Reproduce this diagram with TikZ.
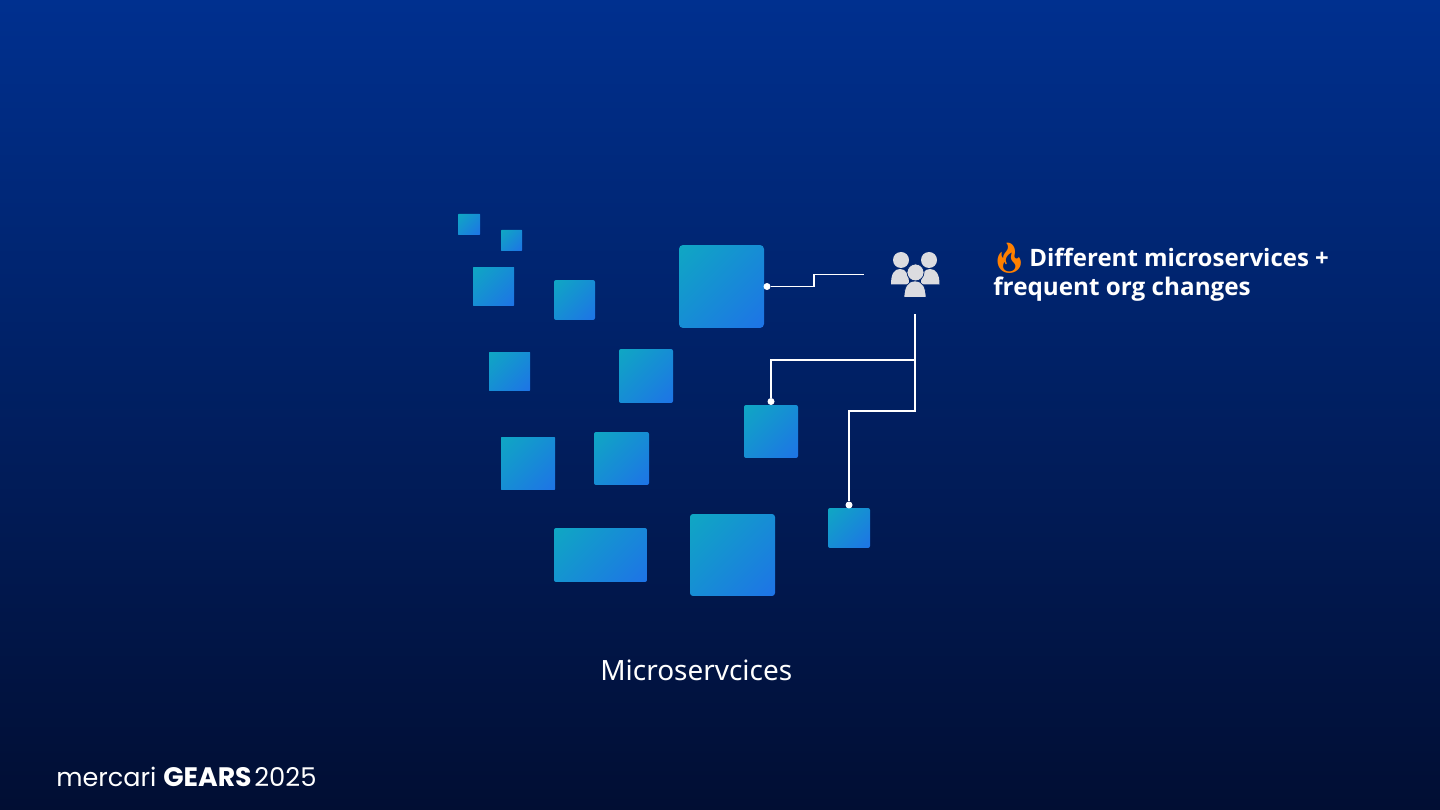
\documentclass[tikz,border=0pt]{standalone}
\usepackage{fontspec}
\setmainfont{Noto Sans}
\newfontfamily\notefont{Open Sans}
\newfontfamily\logofont{Poppins}
\newfontfamily\emojifont{Noto Emoji}
\usepackage{xcolor}
\definecolor{skyA}{HTML}{00308F}
\definecolor{skyB}{HTML}{010E33}
\definecolor{tileA}{HTML}{0CB2BC}
\definecolor{tileB}{HTML}{2168EE}
\definecolor{personC}{HTML}{DCDCE0}
\definecolor{gapC}{HTML}{02266F}
\pgfdeclarehorizontalshading{tilefade}{100bp}{color(0bp)=(tileA); color(100bp)=(tileB)}
\tikzset{
  tile/.style={shading=tilefade,shading angle=-45,rounded corners=0.04cm,inner sep=0pt,outer sep=0pt},
  wire/.style={draw=white,line width=0.03cm},
  pindot/.style={circle,fill=white,inner sep=0pt,minimum size=0.14cm},
  lbl/.style={text=white,inner sep=0pt,anchor=base west}
}
\begin{document}
\begin{tikzpicture}[x=0.02cm,y=-0.02cm]
\useasboundingbox (0,0) rectangle (1440,810);
\shade[top color=skyA,bottom color=skyB] (0,0) rectangle (1440,810);
\node[tile,rounded corners=0.01cm,minimum width=0.44cm,minimum height=0.42cm] (svcA) at (469,224.5) {};
\node[tile,rounded corners=0.01cm,minimum width=0.42cm,minimum height=0.42cm] (svcB) at (511.5,240.5) {};
\node[tile,rounded corners=0.01cm,minimum width=0.82cm,minimum height=0.78cm] (svcC) at (493.5,286.5) {};
\node[tile,minimum width=0.82cm,minimum height=0.80cm] (svcD) at (574.5,300) {};
\node[tile,rounded corners=0.08cm,minimum width=1.70cm,minimum height=1.66cm] (svcE) at (721.5,286.5) {};
\node[tile,rounded corners=0.01cm,minimum width=0.82cm,minimum height=0.78cm] (svcF) at (509.5,371.5) {};
\node[tile,minimum width=1.08cm,minimum height=1.08cm] (svcG) at (646,376) {};
\node[tile,rounded corners=0.01cm,minimum width=1.08cm,minimum height=1.06cm] (svcH) at (528,463.5) {};
\node[tile,minimum width=1.10cm,minimum height=1.06cm] (svcI) at (621.5,458.5) {};
\node[tile,minimum width=1.08cm,minimum height=1.06cm] (svcJ) at (771,431.5) {};
\node[tile,minimum width=0.84cm,minimum height=0.80cm] (svcK) at (849,528) {};
\node[tile,minimum width=1.86cm,minimum height=1.08cm] (svcL) at (600.5,555) {};
\node[tile,rounded corners=0.06cm,minimum width=1.70cm,minimum height=1.64cm] (svcM) at (732.5,555) {};
\node[pindot] (dotE) at (767,286.5) {};
\node[pindot] (dotJ) at (771,401.5) {};
\node[pindot] (dotK) at (849,505) {};
\coordinate (teamL) at (864,274.5);
\coordinate (teamB) at (915,314.5);
\coordinate (teamS) at (915,360);
\draw[wire] (dotE) -- (814,286.5) -- (814,274.5) -- (teamL);
\draw[wire] (teamB) -- (915,411) -- (849,411) -- (dotK);
\draw[wire] (teamS) -- (771,360) -- (dotJ);
\fill[personC] (901,260) circle (8);
\fill[personC] (929,260) circle (8);
\fill[personC] (891,284.5) .. controls (891,274) and (894,269) .. (900,269) .. controls (906,269) and (909,274) .. (909,284.5) -- cycle;
\fill[personC] (921,284.5) .. controls (921,274) and (924,269) .. (930,269) .. controls (936,269) and (939.5,274) .. (939.5,284.5) -- cycle;
\fill[personC,draw=gapC,line width=0.015cm] (915.5,272.5) circle (8.5);
\fill[personC,draw=gapC,line width=0.015cm] (904,297.5) .. controls (904,287) and (907.5,281) .. (915,281) .. controls (922.5,281) and (926,287) .. (926,297.5) -- cycle;
\node[lbl,font=\fontsize{13.65}{16}\notefont\bfseries] (note1) at (1029,266.5) {Different microservices +};
\node[lbl,text=orange,font=\fontsize{17}{16}\emojifont] (flame) at (990,268.5) {🔥};
\node[lbl,font=\fontsize{13.8}{16}\notefont\bfseries] (note2) at (993,295.5) {frequent org changes};
\node[lbl,font=\fontsize{15.9}{18}\selectfont] (caption) at (600,680) {Microservcices};
\node[lbl,font=\fontsize{14.5}{16}\logofont] (logoA) at (56,786) {mercari};
\node[lbl,font=\fontsize{15.2}{16}\logofont\bfseries] (logoB) at (163,786) {GEARS};
\node[lbl,font=\fontsize{14.7}{16}\logofont] (logoC) at (254,786) {2025};
\end{tikzpicture}
\end{document}
